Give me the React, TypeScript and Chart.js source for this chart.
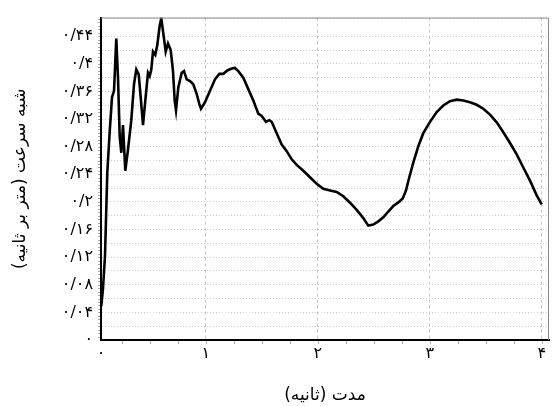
import { useEffect, useRef } from "react";
import { Chart, registerables } from "chart.js";

Chart.register(...registerables);

// Time (s) and pseudo-velocity (m/s) samples of the response curve
const timeSec = [
  0.068, 0.083, 0.1007, 0.1213, 0.1409, 0.1632, 0.1811, 0.2016, 0.2168, 0.232,
  0.2463, 0.2614, 0.282, 0.3061, 0.3355, 0.3596, 0.3802, 0.4016, 0.4195, 0.44,
  0.4605, 0.4846, 0.4998, 0.5141, 0.5293, 0.5498, 0.5677, 0.5891, 0.6034, 0.6275,
  0.6427, 0.6632, 0.6873, 0.7079, 0.723, 0.7347, 0.7552, 0.7855, 0.8061, 0.8302,
  0.8596, 0.8891, 0.9195, 0.9427, 0.9579, 0.9936, 1.0382, 1.0829, 1.1213, 1.157,
  1.1927, 1.232, 1.2614, 1.2909, 1.3355, 1.3802, 1.4248, 1.4695, 1.4998, 1.5382,
  1.5677, 1.5891, 1.6338, 1.6784, 1.723, 1.7677, 1.8123, 1.8713, 1.9311, 1.9909,
  2.0498, 2.1096, 2.1695, 2.2284, 2.2882, 2.348, 2.407, 2.4516, 2.4963, 2.5409,
  2.5855, 2.6302, 2.6748, 2.7195, 2.7588, 2.7882, 2.8177, 2.8534, 2.898, 2.9427,
  3.0025, 3.0623, 3.1213, 3.1811, 3.2409, 3.2998, 3.3596, 3.4195, 3.4784, 3.5382,
  3.598, 3.657, 3.7168, 3.7766, 3.8355, 3.8954, 3.9552, 3.9998,
];

const pseudoVelocity = [
  0.049, 0.075, 0.122, 0.2428, 0.2972, 0.3515, 0.361, 0.4366, 0.3799, 0.2948,
  0.2712, 0.3113, 0.2451, 0.2759, 0.3184, 0.3705, 0.3918, 0.3847, 0.3515, 0.3113,
  0.3468, 0.387, 0.3823, 0.3918, 0.4177, 0.4131, 0.4272, 0.4556, 0.466, 0.4366,
  0.4177, 0.4295, 0.4201, 0.3894, 0.3468, 0.3326, 0.3657, 0.387, 0.3894, 0.3776,
  0.3752, 0.3705, 0.3563, 0.3421, 0.335, 0.3444, 0.361, 0.3776, 0.3855, 0.3855,
  0.3904, 0.3932, 0.394, 0.3894, 0.3799, 0.3634, 0.3468, 0.3279, 0.3245, 0.316,
  0.3184, 0.316, 0.2996, 0.283, 0.2735, 0.2617, 0.2536, 0.2451, 0.2357, 0.2262,
  0.2191, 0.2167, 0.2145, 0.2082, 0.1989, 0.1884, 0.1766, 0.1657, 0.1671, 0.1719,
  0.1776, 0.1861, 0.194, 0.1993, 0.205, 0.2167, 0.2357, 0.257, 0.2806, 0.2996,
  0.316, 0.3302, 0.3397, 0.3458, 0.3482, 0.3468, 0.3444, 0.3407, 0.335, 0.3265,
  0.3152, 0.301, 0.2854, 0.2688, 0.2499, 0.2309, 0.2096, 0.1965,
];

// Axis extents and tick labels
const xMin = 0.065;
const xMax = 4.065;
const xTickValues = [1, 2, 3, 4];
const xTickLabels = ["۱", "۲", "۳", "۴"];
const xOriginLabel = "۰";

const yMin = 0;
const yMax = 0.467;
const yTickValues = [0, 0.04, 0.08, 0.12, 0.16, 0.2, 0.24, 0.28, 0.32, 0.36, 0.4, 0.44];
const yTickLabels = [
  "۰", "۰/۰۴", "۰/۰۸", "۰/۱۲", "۰/۱۶", "۰/۲", "۰/۲۴", "۰/۲۸", "۰/۳۲", "۰/۳۶", "۰/۴", "۰/۴۴",
];

const xTitle = "مدت (ثانیه)";
const yTitle = "شبه سرعت (متر بر ثانیه)";

const FONT = "'DejaVu Sans', sans-serif";

// Gray frame on the top/right sides plus small minor tick marks on both axes
const framePlugin = {
  id: "frameAndMinorTicks",
  afterDraw(chart: any) {
    const { ctx, chartArea } = chart;
    const { left, right, top, bottom } = chartArea;
    const xs = chart.scales.x;
    const ys = chart.scales.y;
    ctx.save();
    ctx.strokeStyle = "#8a8a8a";
    ctx.lineWidth = 1;
    ctx.beginPath();
    ctx.moveTo(left, top + 0.5);
    ctx.lineTo(right - 0.5, top + 0.5);
    ctx.lineTo(right - 0.5, bottom);
    ctx.stroke();

    ctx.strokeStyle = "#a8a8a8";
    ctx.beginPath();
    for (let v = 0.25; v <= xMax; v += 0.25) {
      const px = Math.round(xs.getPixelForValue(v)) + 0.5;
      ctx.moveTo(px, bottom + 1);
      ctx.lineTo(px, bottom + 4);
    }
    for (let i = 1; i * 0.005 <= yMax; i++) {
      const py = Math.round(ys.getPixelForValue(i * 0.005)) + 0.5;
      ctx.moveTo(left - 1, py);
      ctx.lineTo(left - 3, py);
    }
    ctx.stroke();
    ctx.restore();
  },
};

export default function App() {
  const canvasRef = useRef<HTMLCanvasElement | null>(null);

  useEffect(() => {
    const canvas = canvasRef.current;
    if (!canvas) return;
    const points = timeSec.map((t, i) => ({ x: t, y: pseudoVelocity[i] }));

    const chart = new Chart(canvas, {
      type: "line",
      data: {
        datasets: [
          {
            data: points,
            borderColor: "#000000",
            borderWidth: 2.6,
            pointRadius: 0,
            tension: 0,
            fill: false,
          },
        ],
      },
      options: {
        animation: false,
        responsive: false,
        parsing: false as any,
        layout: { padding: { top: 10, right: 3, left: 0, bottom: 0 } },
        plugins: {
          legend: { display: false },
          tooltip: { enabled: false },
        },
        scales: {
          x: {
            type: "linear",
            min: xMin,
            max: xMax,
            afterBuildTicks: (scale: any) => {
              scale.ticks = [{ value: xMin }, ...xTickValues.map((v) => ({ value: v }))];
            },
            afterFit: (scale: any) => {
              scale.height = 66;
            },
            ticks: {
              autoSkip: false,
              maxRotation: 0,
              padding: 4,
              color: "#000",
              font: { family: FONT, size: 16 },
              callback: (_v: any, index: number) =>
                index === 0 ? xOriginLabel : xTickLabels[index - 1],
            },
            grid: {
              drawTicks: false,
              color: (c: any) => (c.index === 0 ? "rgba(0,0,0,0)" : "#c4c4c4"),
              lineWidth: 1,
            },
            border: { display: true, color: "#000", width: 2, dash: [3, 3] },
            title: {
              display: true,
              text: xTitle,
              color: "#000",
              font: { family: FONT, size: 17 },
              padding: { top: 0, bottom: 0 },
            },
          },
          y: {
            type: "linear",
            min: yMin,
            max: yMax,
            afterFit: (scale: any) => {
              scale.width = 101;
            },
            ticks: {
              stepSize: 0.02,
              autoSkip: false,
              padding: 8,
              color: "#000",
              font: { family: FONT, size: 16 },
              callback: (v: any) => {
                const idx = yTickValues.findIndex((t) => Math.abs(t - Number(v)) < 1e-6);
                return idx >= 0 ? yTickLabels[idx] : "";
              },
            },
            grid: {
              drawTicks: false,
              color: "#cccccc",
              lineWidth: 1,
            },
            border: { display: true, color: "#000", width: 2, dash: [1, 2] },
            title: {
              display: true,
              text: yTitle,
              color: "#000",
              font: { family: FONT, size: 17 },
              padding: { top: 10, bottom: 0 },
            },
          },
        },
      } as any,
      plugins: [framePlugin],
    });

    return () => chart.destroy();
  }, []);

  return (
    <div
      style={{
        position: "absolute",
        left: 0,
        top: 0,
        width: 552,
        height: 406,
        background: "#ffffff",
      }}
    >
      <canvas ref={canvasRef} width={552} height={406} style={{ display: "block" }} />
    </div>
  );
}
